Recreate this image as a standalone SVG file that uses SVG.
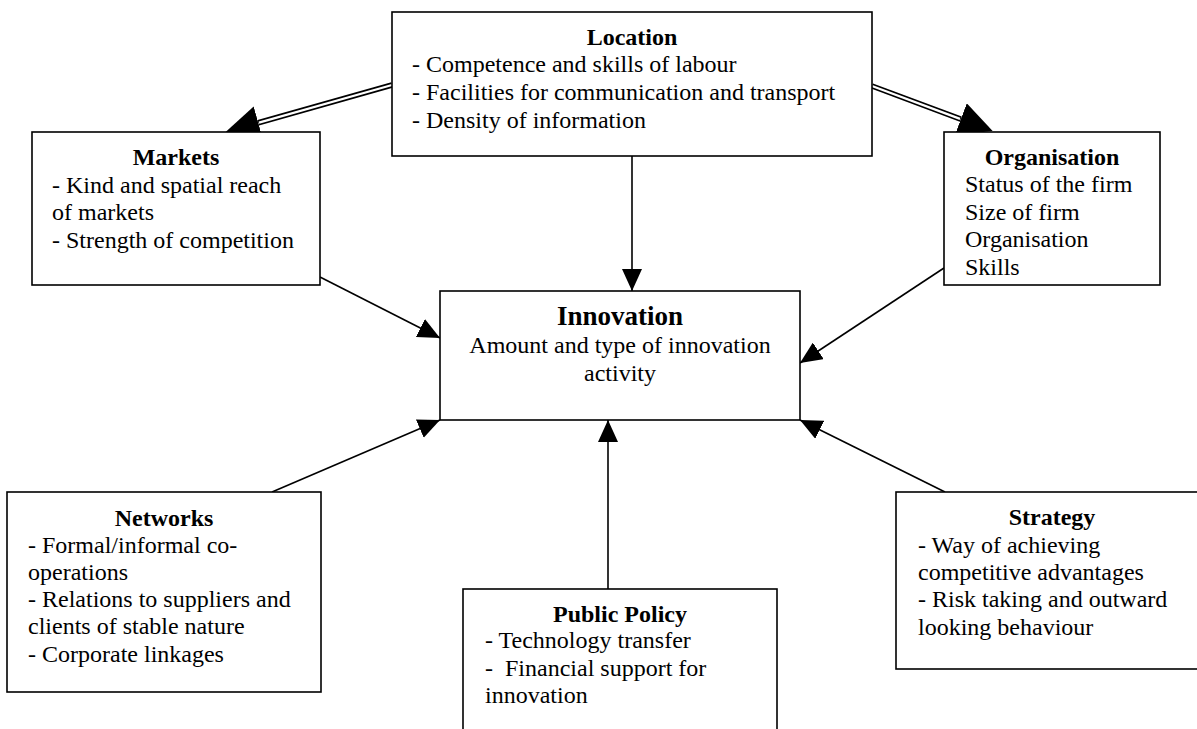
<svg xmlns="http://www.w3.org/2000/svg" width="1197" height="729" viewBox="0 0 1197 729">
<style>
  .box { fill: #fff; stroke: #000; stroke-width: 1.6; }
  text { font-family: "Liberation Serif", "Times New Roman", serif; font-size: 24px; fill: #000; }
  .t { font-weight: bold; text-anchor: middle; }
  .c { text-anchor: middle; }
  .ln { stroke: #000; stroke-width: 1.6; fill: none; }
  .dbl { stroke: #000; stroke-width: 5.6; fill: none; }
  .dblw { stroke: #fff; stroke-width: 2.2; fill: none; }
</style>
<defs>
  <marker id="arr" markerUnits="userSpaceOnUse" markerWidth="22" markerHeight="20" refX="22" refY="10" orient="auto">
    <path d="M0,0 L22,10 L0,20 Z" fill="#000"/>
  </marker>
  <marker id="big" markerUnits="userSpaceOnUse" markerWidth="34" markerHeight="34" refX="0" refY="17" orient="auto">
    <path d="M0,0 L34,17 L0,34 Z" fill="#000"/>
  </marker>
</defs>
<rect width="1197" height="729" fill="#fff"/>
<g id="connectors">
  <path class="dbl" d="M392,85 L258.3,122.8" marker-end="url(#big)"/>
  <path class="dblw" d="M392,85 L259,122.6"/>
  <path class="dbl" d="M872,86 L960.8,119.2" marker-end="url(#big)"/>
  <path class="dblw" d="M872,86 L960,118.9"/>
  <path class="ln" d="M632,156 L632,291" marker-end="url(#arr)"/>
  <path class="ln" d="M320,277 L440,338" marker-end="url(#arr)"/>
  <path class="ln" d="M944,268 L800,363" marker-end="url(#arr)"/>
  <path class="ln" d="M272,492 L440,420" marker-end="url(#arr)"/>
  <path class="ln" d="M608,589 L608,420" marker-end="url(#arr)"/>
  <path class="ln" d="M945,492 L800,420" marker-end="url(#arr)"/>
</g>
<g id="location">
  <rect class="box" x="392" y="12" width="480" height="144"/>
  <text class="t" x="632" y="45">Location</text>
  <text x="412" y="72">- Competence and skills of labour</text>
  <text x="412" y="100">- Facilities for communication and transport</text>
  <text x="412" y="128">- Density of information</text>
</g>
<g id="markets">
  <rect class="box" x="32" y="132" width="288" height="153"/>
  <text class="t" x="176" y="165">Markets</text>
  <text x="52" y="193">- Kind and spatial reach</text>
  <text x="52" y="220">of markets</text>
  <text x="52" y="248">- Strength of competition</text>
</g>
<g id="organisation">
  <rect class="box" x="944" y="132" width="216" height="153"/>
  <text class="t" x="1052" y="165">Organisation</text>
  <text x="965" y="192">Status of the firm</text>
  <text x="965" y="220">Size of firm</text>
  <text x="965" y="247">Organisation</text>
  <text x="965" y="275">Skills</text>
</g>
<g id="innovation">
  <rect class="box" x="440" y="291" width="360" height="129"/>
  <text class="t" x="620" y="325" style="font-size:27px">Innovation</text>
  <text class="c" x="620" y="353">Amount and type of innovation</text>
  <text class="c" x="620" y="381">activity</text>
</g>
<g id="networks">
  <rect class="box" x="7" y="492" width="314" height="200"/>
  <text class="t" x="164" y="526">Networks</text>
  <text x="28" y="553">- Formal/informal co-</text>
  <text x="28" y="580">operations</text>
  <text x="28" y="607">- Relations to suppliers and</text>
  <text x="28" y="634">clients of stable nature</text>
  <text x="28" y="662">- Corporate linkages</text>
</g>
<g id="public-policy">
  <rect class="box" x="463" y="589" width="314" height="160"/>
  <text class="t" x="620" y="622">Public Policy</text>
  <text x="485" y="648">- Technology transfer</text>
  <text x="485" y="676">-&#160; Financial support for</text>
  <text x="485" y="703">innovation</text>
</g>
<g id="strategy">
  <rect class="box" x="896" y="492" width="312" height="177"/>
  <text class="t" x="1052" y="525">Strategy</text>
  <text x="918" y="553">- Way of achieving</text>
  <text x="918" y="580">competitive advantages</text>
  <text x="918" y="607">- Risk taking and outward</text>
  <text x="918" y="635">looking behaviour</text>
</g>
</svg>
